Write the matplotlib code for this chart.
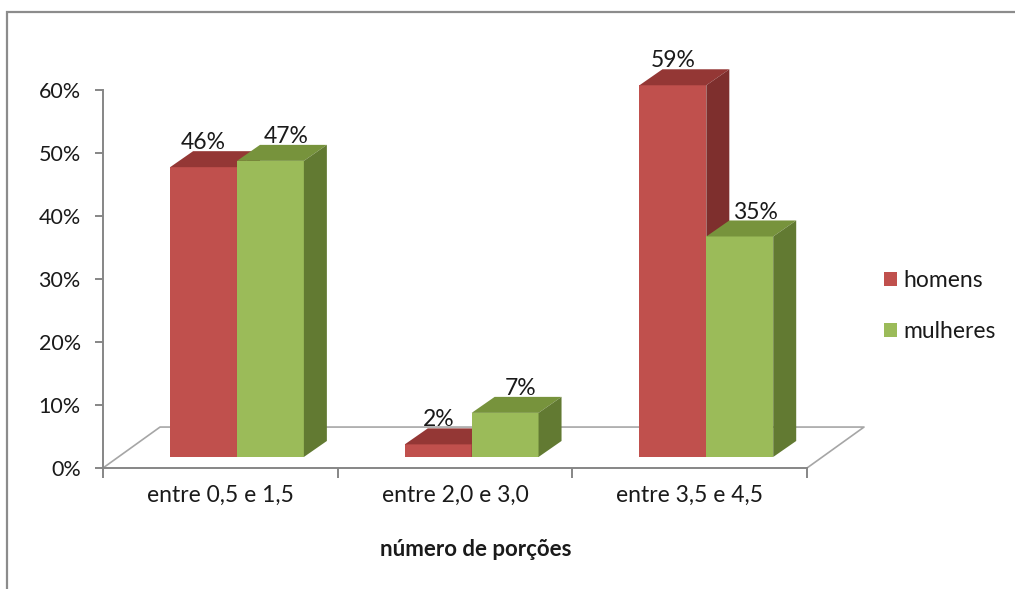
import numpy as np
import matplotlib.pyplot as plt
from matplotlib.patches import Polygon, Rectangle, Patch

plt.rcParams['font.family'] = ['Lato', 'DejaVu Sans']

categories = ['entre 0,5 e 1,5', 'entre 2,0 e 3,0', 'entre 3,5 e 4,5']
homens = [46, 2, 59]
mulheres = [47, 7, 35]
series_names = ['homens', 'mulheres']
yticks = [0, 10, 20, 30, 40, 50, 60]

# front / top / side shades for each series
shades = {
    'homens': ('#C0504D', '#943735', '#7E2F2D'),
    'mulheres': ('#9BBB59', '#77933C', '#627A32'),
}

# fake 3d geometry, in data units
bar_w = 0.285
bar_shift = 0.071
base = 1.75
dep_x, dep_y = 0.098, 2.54
floor_x, floor_y = 0.243, 6.5


def box(ax, x0, h, colors, z):
    front, top, side = colors
    y0, y1 = base, base + h
    ax.add_patch(Polygon([(x0, y0), (x0 + bar_w, y0), (x0 + bar_w, y1), (x0, y1)],
                         closed=True, fc=front, ec='none', zorder=z, clip_on=False))
    ax.add_patch(Polygon([(x0, y1), (x0 + bar_w, y1),
                          (x0 + bar_w + dep_x, y1 + dep_y), (x0 + dep_x, y1 + dep_y)],
                         closed=True, fc=top, ec='none', zorder=z, clip_on=False))
    ax.add_patch(Polygon([(x0 + bar_w, y0), (x0 + bar_w + dep_x, y0 + dep_y),
                          (x0 + bar_w + dep_x, y1 + dep_y), (x0 + bar_w, y1)],
                         closed=True, fc=side, ec='none', zorder=z, clip_on=False))


fig = plt.figure(figsize=(10.15, 5.89), dpi=100)
ax = fig.add_axes([103 / 1015, 121 / 589, 704 / 1015, 441 / 589])
ax.set_xlim(-0.5, 2.5)
ax.set_ylim(0, 70)

# outer chart frame (runs off the right and bottom edges)
fig.patches.append(Rectangle((7 / 1015, -0.2), 1.2, 1 - 12 / 589 + 0.2,
                             transform=fig.transFigure, fill=False,
                             ec='#8C8C8C', lw=1.6))

# floor
grey = '#A6A6A6'
ax.plot([-0.5, -0.5 + floor_x, 2.5 + floor_x, 2.5],
        [0, floor_y, floor_y, 0], color=grey, lw=1.2, zorder=1, clip_on=False)

x = np.arange(len(categories))
data = [homens, mulheres]
for i in range(len(categories)):
    for s, (name, vals) in enumerate(zip(series_names, data)):
        x0 = x[i] + bar_shift - bar_w + s * bar_w
        box(ax, x0, vals[i], shades[name], 3 + s)
        lx = x0 + bar_w / 2 + s * 0.065
        ax.text(lx, base + vals[i] + dep_y + 0.3, f'{vals[i]}%', ha='center',
                va='baseline', fontsize=16.5, color='#1a1a1a', zorder=2)

# axes styling
axis_c = '#868686'
for side in ['top', 'right']:
    ax.spines[side].set_visible(False)
ax.spines['left'].set_bounds(0, 60)
ax.spines['left'].set_color(axis_c)
ax.spines['bottom'].set_color(axis_c)
ax.spines['left'].set_linewidth(1.4)
ax.spines['bottom'].set_linewidth(1.4)

ax.set_yticks(yticks)
ax.set_yticklabels([f'{t}%' for t in yticks])
ax.tick_params(axis='y', length=6, width=1.4, color=axis_c, pad=10,
               labelsize=15.5, labelcolor='#1a1a1a')

ax.set_xticks([-0.5, 0.5, 1.5, 2.5])
ax.set_xticklabels([])
ax.set_xticks(x, minor=True)
ax.set_xticklabels(categories, minor=True)
ax.tick_params(axis='x', which='major', length=7, width=1.4, color=axis_c)
ax.tick_params(axis='x', which='minor', length=0, pad=12,
               labelsize=16.5, labelcolor='#1a1a1a')

fig.text(476 / 1015, 1 - 550 / 589, 'número de porções', ha='center', va='center',
         fontsize=16, fontweight='bold', color='#1a1a1a')

handles = [Patch(fc=shades[n][0], ec='none') for n in series_names]
fig.legend(handles, series_names, loc='center left',
           bbox_to_anchor=(884 / 1015, 1 - 306 / 589), frameon=False,
           borderpad=0, borderaxespad=0,
           fontsize=16.5, handlelength=0.56, handleheight=0.56,
           handletextpad=0.3, labelspacing=1.3, labelcolor='#1a1a1a')

fig.savefig('out.png', dpi=100)
